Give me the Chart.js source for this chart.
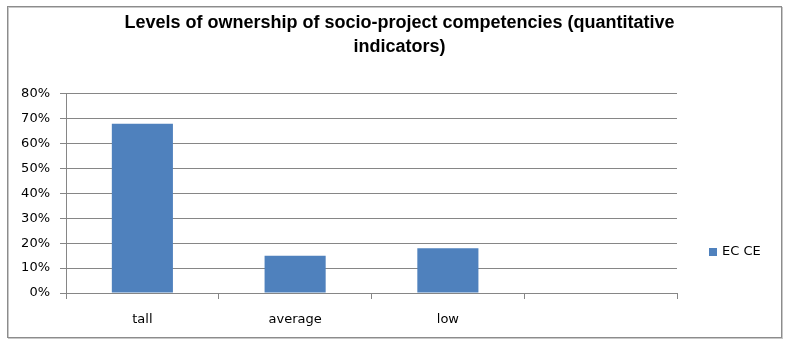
<!DOCTYPE html>
<html>
<head>
<meta charset="utf-8">
<script src="https://cdn.jsdelivr.net/npm/chart.js@4/dist/chart.umd.min.js"></script>
<style>
html,body{margin:0;padding:0;background:#fff;}
#wrap{width:789px;height:345px;position:relative;}
</style>
</head>
<body>
<div id="wrap"><canvas id="c" width="789" height="345"></canvas></div>
<script>
const categories = ['tall', 'average', 'low', ''];
const seriesName = 'EC CE';
const seriesValues = [68, 15, 18, null];
const yTicks = [0, 10, 20, 30, 40, 50, 60, 70, 80];
const titleLines = ['Levels of ownership of socio-project competencies (quantitative', 'indicators)'];

const BAR = '#4F81BD';
const GRID = '#868686';

const framePlugin = {
  id: 'frame',
  beforeDraw(chart) {
    const ctx = chart.ctx;
    ctx.save();
    ctx.fillStyle = '#fff';
    ctx.fillRect(0, 0, chart.width, chart.height);
    ctx.strokeStyle = '#c8c8c8';
    ctx.lineWidth = 1;
    ctx.strokeRect(8.5, 7.5, 774, 331);
    ctx.strokeStyle = '#8c8c8c';
    ctx.strokeRect(7.5, 6.5, 774, 331);
    ctx.restore();
  },
  afterDraw(chart) {
    const ctx = chart.ctx;
    const ds = chart.data.datasets[0];
    ctx.save();
    ctx.fillStyle = ds.backgroundColor;
    ctx.fillRect(709, 248, 8, 8);
    ctx.fillStyle = '#000';
    ctx.font = '13px "DejaVu Sans"';
    ctx.textBaseline = 'middle';
    ctx.fillText(ds.label, 722, 252);
    ctx.restore();
  }
};

new Chart(document.getElementById('c'), {
  type: 'bar',
  data: {
    labels: categories,
    datasets: [{
      label: seriesName,
      data: seriesValues,
      backgroundColor: BAR,
      borderWidth: 0,
      categoryPercentage: 1.0,
      barPercentage: 0.4
    }]
  },
  options: {
    responsive: false,
    animation: false,
    devicePixelRatio: 1,
    layout: { padding: { left: 10, right: 0, top: 11, bottom: 0 } },
    plugins: {
      legend: { display: false },
      tooltip: { enabled: false },
      title: {
        display: true,
        text: titleLines,
        color: '#000',
        font: { family: '"Liberation Sans", Arial, sans-serif', size: 18, weight: 'bold', lineHeight: 1.333 },
        padding: { top: 0, bottom: 35 }
      }
    },
    scales: {
      x: {
        offset: true,
        grid: { offset: true, drawOnChartArea: false, drawTicks: true, tickLength: 6, color: GRID },
        border: { display: true, color: GRID },
        ticks: { color: '#000', font: { family: '"DejaVu Sans"', size: 13 }, padding: 13, maxRotation: 0 },
        afterFit(s) { s.height = 52; }
      },
      y: {
        min: 0,
        max: 80,
        afterBuildTicks(s) { s.ticks = yTicks.map(v => ({ value: v })); },
        grid: { color: GRID, tickLength: 6, drawTicks: true },
        border: { display: true, color: GRID },
        ticks: {
          color: '#000',
          font: { family: '"DejaVu Sans"', size: 13 },
          padding: 10,
          callback: v => v + '%'
        },
        afterFit(s) { s.width = 56; }
      },
      yRight: {
        position: 'right',
        min: 0,
        max: 80,
        grid: { display: false, drawOnChartArea: false },
        border: { display: false },
        ticks: { display: false },
        afterFit(s) { s.width = 112; }
      }
    }
  },
  plugins: [framePlugin]
});
</script>
</body>
</html>
